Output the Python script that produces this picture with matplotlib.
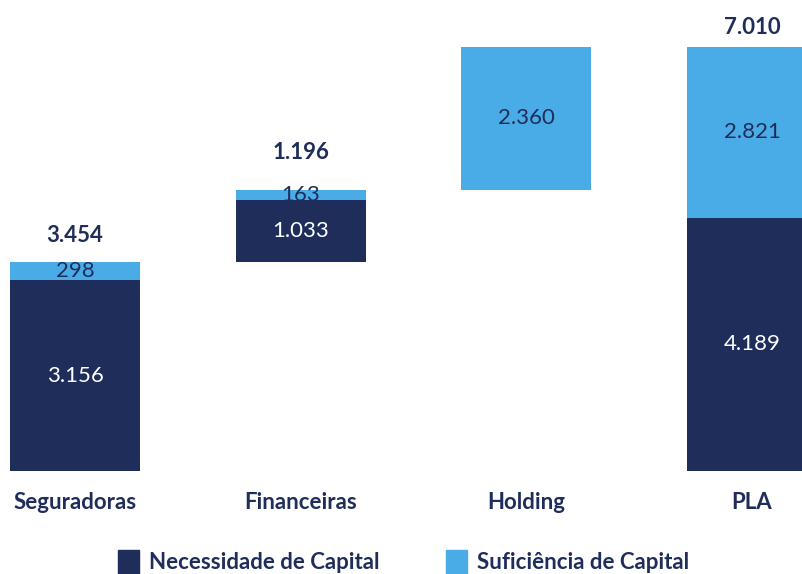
import matplotlib.pyplot as plt
from matplotlib.patches import Patch

plt.rcParams['font.family'] = ['Lato', 'DejaVu Sans']

categories = ['Seguradoras', 'Financeiras', 'Holding', 'PLA']
necessidade = [3156, 1033, 0, 4189]
suficiencia = [298, 163, 2360, 2821]
base = [0, 3454, 4650, 0]
totais = [3454, 1196, None, 7010]

navy = '#1f2d5a'
blue = '#4aace6'
fs = 16


def fmt(v):
    return f'{v:,}'.replace(',', '.')


fig = plt.figure(figsize=(8.02, 5.74), dpi=100)
ax = fig.add_axes([0, 103 / 574, 1, 424 / 574])
for s in ax.spines.values():
    s.set_visible(False)
ax.set_xticks([])
ax.set_yticks([])
ax.set_xlim(-75 / 225.67, 3 + 50 / 225.67)
ax.set_ylim(0, 7010)

x = range(len(categories))
w = 130 / 225.67
dark_bottom = base
light_bottom = [b + n for b, n in zip(base, necessidade)]
ax.bar(x, necessidade, w, bottom=dark_bottom, color=navy)
ax.bar(x, suficiencia, w, bottom=light_bottom, color=blue)

for i in x:
    if necessidade[i]:
        ax.text(i, dark_bottom[i] + necessidade[i] / 2, fmt(necessidade[i]),
                ha='center', va='center', color='white', fontsize=fs)
    ax.text(i, light_bottom[i] + suficiencia[i] / 2, fmt(suficiencia[i]),
            ha='center', va='center', color=navy, fontsize=fs)
    ax.annotate(categories[i], (i, 0), xytext=(0, -23), textcoords='offset points',
                ha='center', va='center', color=navy, fontsize=fs,
                fontweight='bold', annotation_clip=False)

# totais acima das barras
offsets = [19, 27, 0, 14]
for i in x:
    if totais[i] is None:
        continue
    top = light_bottom[i] + suficiencia[i]
    ax.annotate(fmt(totais[i]), (i, top), xytext=(0, offsets[i]), textcoords='offset points',
                ha='center', va='center', color=navy, fontsize=fs,
                fontweight='bold', annotation_clip=False)

handles = [Patch(color=navy, label='Necessidade de Capital'),
           Patch(color=blue, label='Suficiência de Capital')]
leg = fig.legend(handles=handles, loc='center', bbox_to_anchor=(0.503, 12 / 574), ncol=2,
                 frameon=False, fontsize=fs, handlelength=0.95, handleheight=1.3,
                 handletextpad=0.45, columnspacing=3.0)
for t in leg.get_texts():
    t.set_color(navy)
    t.set_fontweight('bold')

fig.savefig('out.png', dpi=100)
